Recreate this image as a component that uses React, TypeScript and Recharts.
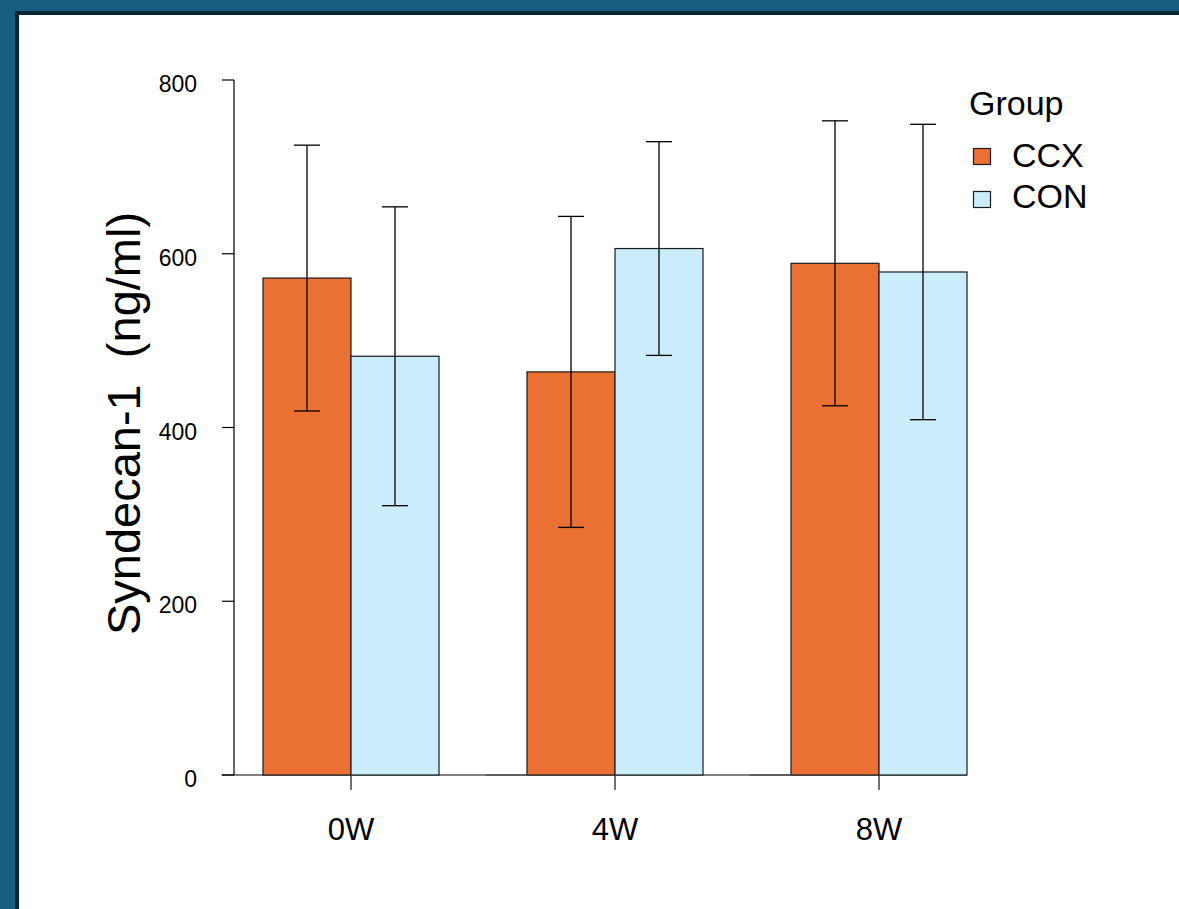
import React from 'react';
import { ComposedChart, Bar, XAxis, YAxis, ErrorBar, Legend } from 'recharts';

const categories = ['0W', '4W', '8W'];
const ccxMean = [572, 464, 589];
const ccxSd = [153, 179, 164];
const conMean = [482, 606, 579];
const conSd = [172, 123, 170];
const yTicks = [0, 200, 400, 600, 800];
const groupNames = ['CCX', 'CON'];
const groupColors = ['#EA7133', '#CBEDFB'];
const legendTitle = 'Group';
const yTitle = 'Syndecan-1  (ng/ml)';

const FONT = '"Liberation Sans", Arial, Helvetica, sans-serif';

const data = categories.map((c, i) => ({
  cat: c,
  ccx: ccxMean[i],
  ccxErr: ccxSd[i],
  con: conMean[i],
  conErr: conSd[i],
}));

const makeShape = (side: 'left' | 'right', fill: string) => (props: any) => {
  const { x, y, width, height, index } = props;
  const bottom = y + height;
  const x1 = side === 'left' ? x - width * 0.47 : x;
  const x2 = side === 'right' && index < categories.length - 1 ? x + width * 2 : x + width;
  return (
    <g>
      <line x1={x1} x2={x2} y1={bottom} y2={bottom} stroke="#555" strokeWidth={1.6} />
      <rect x={x} y={y} width={width} height={height} fill={fill} stroke="#1a1a1a" strokeWidth={1.2} />
    </g>
  );
};

const YTick = (props: any) => {
  const { x, y, payload } = props;
  return (
    <text x={x} y={y + 4} dy="0.355em" textAnchor="end" fontSize={23} fontFamily={FONT} fill="#000">
      {payload.value}
    </text>
  );
};

const XTick = (props: any) => {
  const { x, y, payload } = props;
  return (
    <text x={x} y={y} dy="0.71em" textAnchor="middle" fontSize={31} fontFamily={FONT} fill="#000">
      {payload.value}
    </text>
  );
};

const renderLegend = (props: any) => {
  const payload = (props && props.payload) || [];
  return (
    <svg width={200} height={150} style={{ display: 'block' }}>
      <text x={9} y={45} fontSize={34} fontFamily={FONT} fill="#000">
        {legendTitle}
      </text>
      {payload.map((p: any, i: number) => (
        <g key={p.value}>
          <rect x={13.5} y={78.5 + i * 43} width={17} height={16} fill={p.color} stroke="#1a1a1a" strokeWidth={1.2} />
          <text x={52} y={97 + i * 41} fontSize={34} fontFamily={FONT} fill="#000">
            {p.value}
          </text>
        </g>
      ))}
    </svg>
  );
};

const YLabel = (props: any) => {
  const vb = props.viewBox || { x: 134, y: 80, width: 100, height: 695 };
  const cx = vb.x + 6;
  const cy = vb.y + vb.height / 2 - 4;
  return (
    <text
      x={cx}
      y={cy}
      textAnchor="middle"
      fontSize={47}
      fontFamily={FONT}
      fill="#000"
      style={{ whiteSpace: 'pre' }}
      transform={`rotate(-90 ${cx} ${cy})`}
    >
      {yTitle}
    </text>
  );
};

export default function App() {
  return (
    <div style={{ position: 'absolute', left: 0, top: 0, width: 1179, height: 909, overflow: 'hidden', background: '#185E83' }}>
      <div
        style={{
          position: 'absolute',
          left: 15,
          top: 11,
          right: 0,
          bottom: 0,
          background: '#fff',
          borderLeft: '4px solid #082634',
          borderTop: '4px solid #082634',
        }}
      />
      <div style={{ position: 'absolute', left: 0, top: 0 }}>
        <ComposedChart
          width={1179}
          height={909}
          data={data}
          margin={{ top: 80, right: 168, bottom: 74, left: 134 }}
          barGap={0}
          barCategoryGap={44}
        >
          <XAxis
            dataKey="cat"
            padding={{ left: -15, right: 0 }}
            axisLine={false}
            tickLine={{ stroke: '#444', strokeWidth: 1.5 }}
            tickSize={15}
            tickMargin={28}
            tick={<XTick />}
            height={60}
            interval={0}
          />
          <YAxis
            type="number"
            domain={[0, 800]}
            ticks={yTicks}
            interval={0}
            tickSize={12}
            tickMargin={25}
            axisLine={{ stroke: '#000', strokeWidth: 1.2 }}
            tickLine={{ stroke: '#000', strokeWidth: 1.2 }}
            tick={<YTick />}
            width={100}
            label={<YLabel />}
          />
          <Legend
            layout="vertical"
            align="center"
            verticalAlign="middle"
            content={renderLegend}
            wrapperStyle={{ position: 'absolute', left: 960, top: 70, width: 200, height: 150 }}
          />
          <Bar
            dataKey="ccx"
            name={groupNames[0]}
            fill={groupColors[0]}
            barSize={88}
            isAnimationActive={false}
            shape={makeShape('left', groupColors[0])}
          >
            <ErrorBar dataKey="ccxErr" width={13} stroke="#000" strokeWidth={1.3} isAnimationActive={false} />
          </Bar>
          <Bar
            dataKey="con"
            name={groupNames[1]}
            fill={groupColors[1]}
            barSize={88}
            isAnimationActive={false}
            shape={makeShape('right', groupColors[1])}
          >
            <ErrorBar dataKey="conErr" width={13} stroke="#000" strokeWidth={1.3} isAnimationActive={false} />
          </Bar>
        </ComposedChart>
      </div>
    </div>
  );
}
